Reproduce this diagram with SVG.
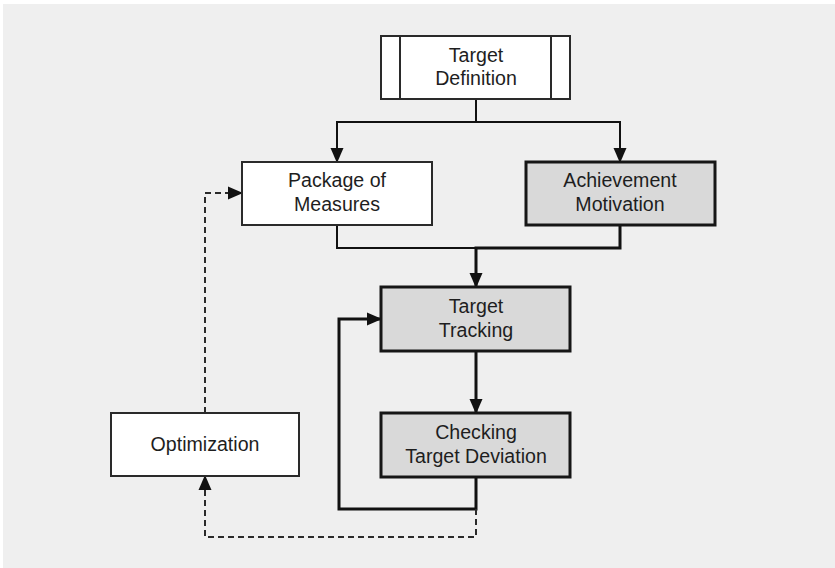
<svg xmlns="http://www.w3.org/2000/svg" width="835" height="568" viewBox="0 0 835 568">
  <style>
    .box { fill: #ffffff; stroke: #2a2a2a; stroke-width: 2; }
    .box.grey { fill: #d9d9d9; stroke: #161616; stroke-width: 3; }
    .lbl { font-family: "Liberation Sans", Arial, sans-serif; font-size: 19.6px; fill: #1e1e1e; text-anchor: middle; }
    .wire { fill: none; stroke: #111111; stroke-width: 2; }
    .wire.heavy { stroke-width: 3; }
    .wire.dash { stroke: #2a2a2a; stroke-dasharray: 6 4; }
  </style>
  <defs>
    <marker id="head" markerUnits="userSpaceOnUse" markerWidth="15" markerHeight="15" viewBox="0 0 15 15" refX="14" refY="7.5" orient="auto">
      <path d="M0 1 L15 7.5 L0 14 Z" fill="#111111"/>
    </marker>
  </defs>

  <!-- backdrop -->
  <rect x="0" y="0" width="835" height="568" fill="#ffffff"/>
  <rect x="3" y="4" width="832" height="564" fill="#efefef"/>

  <!-- connectors -->
  <g id="connectors">
    <path class="wire" d="M476 99 V122 H337 V162" marker-end="url(#head)"/>
    <path class="wire" d="M476 122 H620 V162" marker-end="url(#head)"/>
    <path class="wire" d="M337 225 V248 H476"/>
    <path class="wire heavy" d="M620 225 V248 H476 V287" marker-end="url(#head)"/>
    <path class="wire heavy" d="M476 351 V413" marker-end="url(#head)"/>
    <path class="wire heavy" d="M476 477 V509 H339 V319 H381" marker-end="url(#head)"/>
    <path class="wire dash" d="M476 509 V537 H205 V476" marker-end="url(#head)"/>
    <path class="wire dash" d="M205 413 V193 H242" marker-end="url(#head)"/>
  </g>

  <g id="target-definition">
    <rect class="box" x="381" y="36" width="189" height="63"/>
    <line x1="400" y1="36" x2="400" y2="99" stroke="#2a2a2a" stroke-width="2"/>
    <line x1="551" y1="36" x2="551" y2="99" stroke="#2a2a2a" stroke-width="2"/>
    <text class="lbl" x="476" y="62">Target</text>
    <text class="lbl" x="476" y="85">Definition</text>
  </g>

  <g id="package-of-measures">
    <rect class="box" x="242" y="162" width="190" height="63"/>
    <text class="lbl" x="337" y="187">Package of</text>
    <text class="lbl" x="337" y="211">Measures</text>
  </g>

  <g id="achievement-motivation">
    <rect class="box grey" x="526" y="162" width="189" height="63"/>
    <text class="lbl" x="620" y="187">Achievement</text>
    <text class="lbl" x="620" y="211">Motivation</text>
  </g>

  <g id="target-tracking">
    <rect class="box grey" x="381" y="287" width="189" height="64"/>
    <text class="lbl" x="476" y="313">Target</text>
    <text class="lbl" x="476" y="337">Tracking</text>
  </g>

  <g id="checking-target-deviation">
    <rect class="box grey" x="381" y="413" width="189" height="64"/>
    <text class="lbl" x="476" y="439">Checking</text>
    <text class="lbl" x="476" y="463">Target Deviation</text>
  </g>

  <g id="optimization">
    <rect class="box" x="111" y="413" width="188" height="63"/>
    <text class="lbl" x="205" y="451">Optimization</text>
  </g>
</svg>
